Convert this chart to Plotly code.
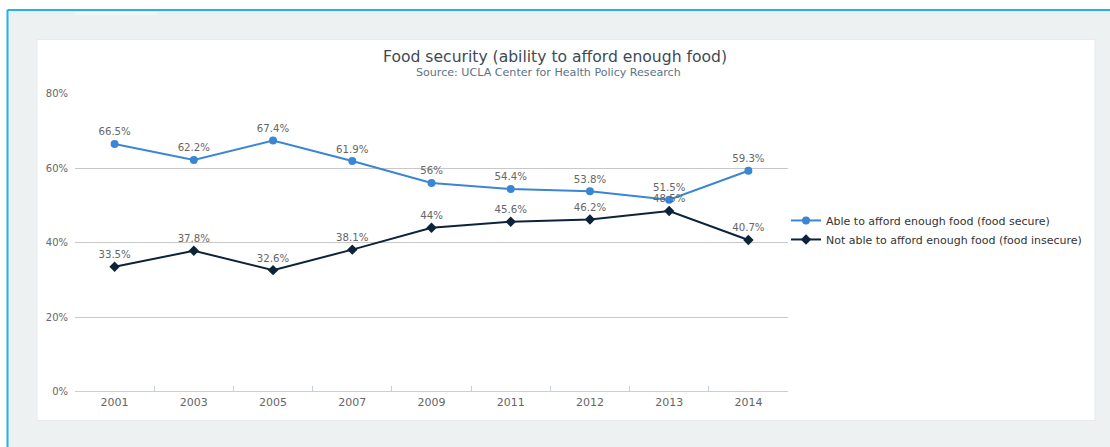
import plotly.graph_objects as go

W, H = 1110, 447

years = ["2001", "2003", "2005", "2007", "2009", "2011", "2012", "2013", "2014"]
secure = [66.5, 62.2, 67.4, 61.9, 56, 54.4, 53.8, 51.5, 59.3]
insecure = [33.5, 37.8, 32.6, 38.1, 44, 45.6, 46.2, 48.5, 40.7]
secure_name = "Able to afford enough food (food secure)"
insecure_name = "Not able to afford enough food (food insecure)"
title_text = "Food security (ability to afford enough food)"
subtitle_text = "Source: UCLA Center for Health Policy Research"


def px(x):
    return x / W


def py(y):
    # compensate the vertical offset/scale seen in the captured picture
    yf = (y - 5.5) / 0.973
    return 1 - yf / H


def fmt(v):
    return f"{v:g}%"


FONT = "DejaVu Sans"
LABEL = "#666666"

fig = go.Figure()
fig.add_trace(go.Scatter(
    x=years, y=secure, name=secure_name, mode="lines+markers+text",
    line=dict(color="#3a86d4", width=2),
    marker=dict(symbol="circle", size=8, color="#3a86d4"),
    text=[fmt(v) for v in secure], textposition="top center",
    textfont=dict(family=FONT, size=10.2, color=LABEL),
))
fig.add_trace(go.Scatter(
    x=years, y=insecure, name=insecure_name, mode="lines+markers+text",
    line=dict(color="#0d233a", width=2),
    marker=dict(symbol="diamond", size=8, color="#0d233a"),
    text=[fmt(v) for v in insecure], textposition="top center",
    textfont=dict(family=FONT, size=10.2, color=LABEL),
))

shapes = [
    dict(type="rect", xref="paper", yref="paper", x0=px(7), x1=px(1112), y0=py(460), y1=py(9),
         fillcolor="#eef1f2", line=dict(width=0), layer="below"),
    dict(type="line", xref="paper", yref="paper", x0=px(8), x1=px(1110), y0=py(9.5), y1=py(9.5),
         line=dict(color="#22b0ee", width=2), layer="below"),
    dict(type="line", xref="paper", yref="paper", x0=px(7.5), x1=px(7.5), y0=py(9), y1=py(460),
         line=dict(color="#22b0ee", width=2), layer="below"),
    dict(type="rect", xref="paper", yref="paper", x0=px(75), x1=px(157), y0=py(14), y1=py(11),
         fillcolor="#f6f8f9", line=dict(width=0), layer="below"),
    dict(type="rect", xref="paper", yref="paper", x0=px(37), x1=px(1095), y0=py(419), y1=py(39),
         fillcolor="#ffffff", line=dict(color="#e6eaec", width=1), layer="below"),
]

annotations = [
    dict(text=title_text, xref="paper", yref="paper", x=px(555), y=py(56), showarrow=False,
         xanchor="center", yanchor="middle", font=dict(family=FONT, size=15.6, color="#3d4a55")),
    dict(text=subtitle_text, xref="paper", yref="paper", x=px(548), y=py(72), showarrow=False,
         xanchor="center", yanchor="middle", font=dict(family=FONT, size=11.1, color="#5a7288")),
]

fig.update_layout(
    width=W, height=H,
    margin=dict(l=0, r=0, t=0, b=0),
    paper_bgcolor="#ffffff", plot_bgcolor="rgba(0,0,0,0)",
    shapes=shapes, annotations=annotations,
    showlegend=True,
    legend=dict(x=px(786), y=1 - 205 / H, xanchor="left", yanchor="top",
                font=dict(family=FONT, size=11, color="#333333"),
                bgcolor="rgba(0,0,0,0)", itemwidth=30, tracegroupgap=0),
    xaxis=dict(domain=[px(75), px(788)], type="category", range=[-0.5, 8.5],
               tickson="boundaries", ticks="inside", ticklen=5, tickcolor="#c0d0e0",
               showline=True, linecolor="#c0d0e0", linewidth=1, showgrid=False,
               tickfont=dict(family=FONT, size=11, color=LABEL), fixedrange=True),
    yaxis=dict(domain=[py(390), py(93)], range=[0, 80], dtick=20, ticksuffix="%",
               showgrid=True, gridcolor="#c8c8c8", gridwidth=1, zeroline=False,
               showline=False, ticks="", ticklabelstandoff=6,
               tickfont=dict(family=FONT, size=10, color=LABEL), fixedrange=True),
    font=dict(family=FONT),
)

post = (
    "document.documentElement.style.overflow='hidden';"
    "document.documentElement.style.background='linear-gradient(to bottom,#ffffff 50%,#eef1f2 50%)';"
    "document.body.style.margin='0';document.body.style.overflow='hidden';"
    "document.body.style.background='transparent';"
    "var d=document.querySelector('.plotly-graph-div');"
    "d.style.position='fixed';d.style.left='0px';d.style.top='0px';"
)

fig.write_html("out.html", config={"displayModeBar": False}, post_script=post)
